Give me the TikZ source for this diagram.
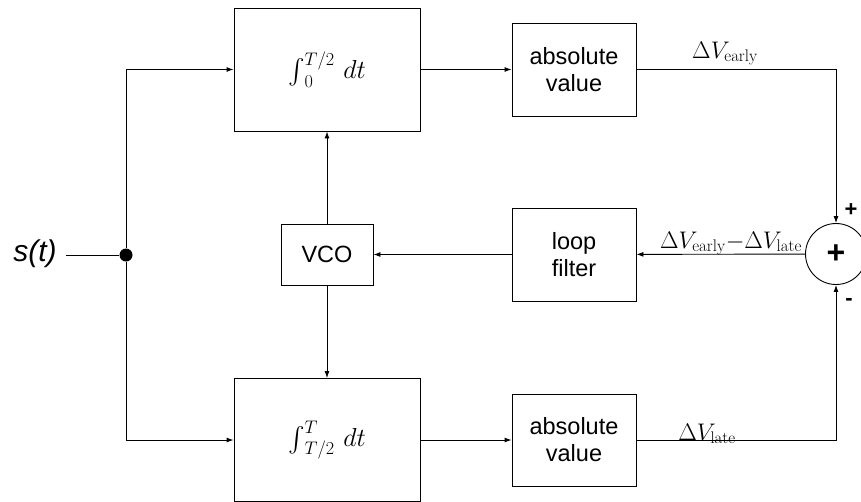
\RequirePackage{fix-cm}
\documentclass[tikz,border=0pt]{standalone}
\usepackage{amsmath}
\usepackage{fontspec}
\setsansfont{Liberation Sans}
\usetikzlibrary{arrows.meta}
% enlarged integral sign, centred on the math axis, limits at its side
\newcommand{\bigintsign}{\mathop{\vcenter{\hbox{\fontsize{40}{42}\selectfont$\int$}}}\nolimits}
\begin{document}
\begin{tikzpicture}[x=1pt,y=-1pt,
  wire/.style={line width=0.9pt},
  flow/.style={wire,-{Latex[length=7pt,width=5pt]}},
  blockbox/.style={draw,line width=0.9pt,inner sep=0pt,align=center,
    font=\fontsize{23.5}{27}\selectfont\sffamily},
  intbox/.style={blockbox,minimum width=186pt,minimum height=123pt,
    font=\fontsize{26}{30}\selectfont},
  mathlabel/.style={inner sep=0pt,font=\fontsize{24}{28}\selectfont},
  signlabel/.style={inner sep=0pt,font=\fontsize{22}{22}\selectfont\sffamily\bfseries},
]
\useasboundingbox (0,0) rectangle (861,501);
\clip (0,0) rectangle (861,501);

% integrators
\node[intbox] (int1) at (327,69.5) {$\bigintsign_0^{T/2}\,dt$};
\node[intbox] (int2) at (327,440) {$\bigintsign_{T/2}^{T}\,dt$};

% rectifiers, loop filter, oscillator
\node[blockbox,minimum width=124pt,minimum height=93pt] (abs1) at (574,69.5) {absolute\\value};
\node[blockbox,minimum width=124pt,minimum height=92pt] (abs2) at (574,440) {absolute\\value};
\node[blockbox,minimum width=124pt,minimum height=93pt] (loop) at (574,254.5) {loop\\filter};
\node[blockbox,minimum width=92pt,minimum height=61pt] (vco) at (327,254.5) {VCO};

% summing junction
\node[draw,circle,line width=0.9pt,minimum size=61pt,inner sep=0pt,
  font=\fontsize{32}{32}\selectfont\sffamily\bfseries] (sum) at (836,254) {+};
\node[signlabel] (pplus) at (851,210) {+};
\node[signlabel] (pminus) at (849,302) {-};

% input and branch point
\node[inner sep=0pt,font=\fontsize{30}{34}\selectfont\sffamily\itshape] (src) at (35,254) {s(t)};
\node[circle,fill,inner sep=0pt,minimum size=13pt] (jn) at (126,255) {};
\coordinate (srcend) at (66,255);

% connections
\draw[wire] (srcend) -- (jn);
\draw[flow] (jn) |- (int1.west);
\draw[flow] (jn) |- (int2.west);
\draw[flow] (int1) -- (abs1);
\draw[flow] (int2) -- (abs2);
\draw[flow] (vco) -- (int1);
\draw[flow] (vco) -- (int2);
\draw[flow] (loop) -- (vco);
\draw[flow] (sum) -- (loop);
\draw[flow] (abs1) -| (sum);
\draw[flow] (abs2) -| (sum);

% signal labels
\node[mathlabel,anchor=base] (learly) at (725,58) {$\Delta V_{\mathrm{early}}$};
\node[mathlabel,anchor=base] (ldiff) at (731,248) {$\Delta V_{\mathrm{early}}{-}\Delta V_{\mathrm{late}}$};
\node[mathlabel,anchor=base] (llate) at (707,440) {$\Delta V_{\mathrm{late}}$};
\end{tikzpicture}
\end{document}
